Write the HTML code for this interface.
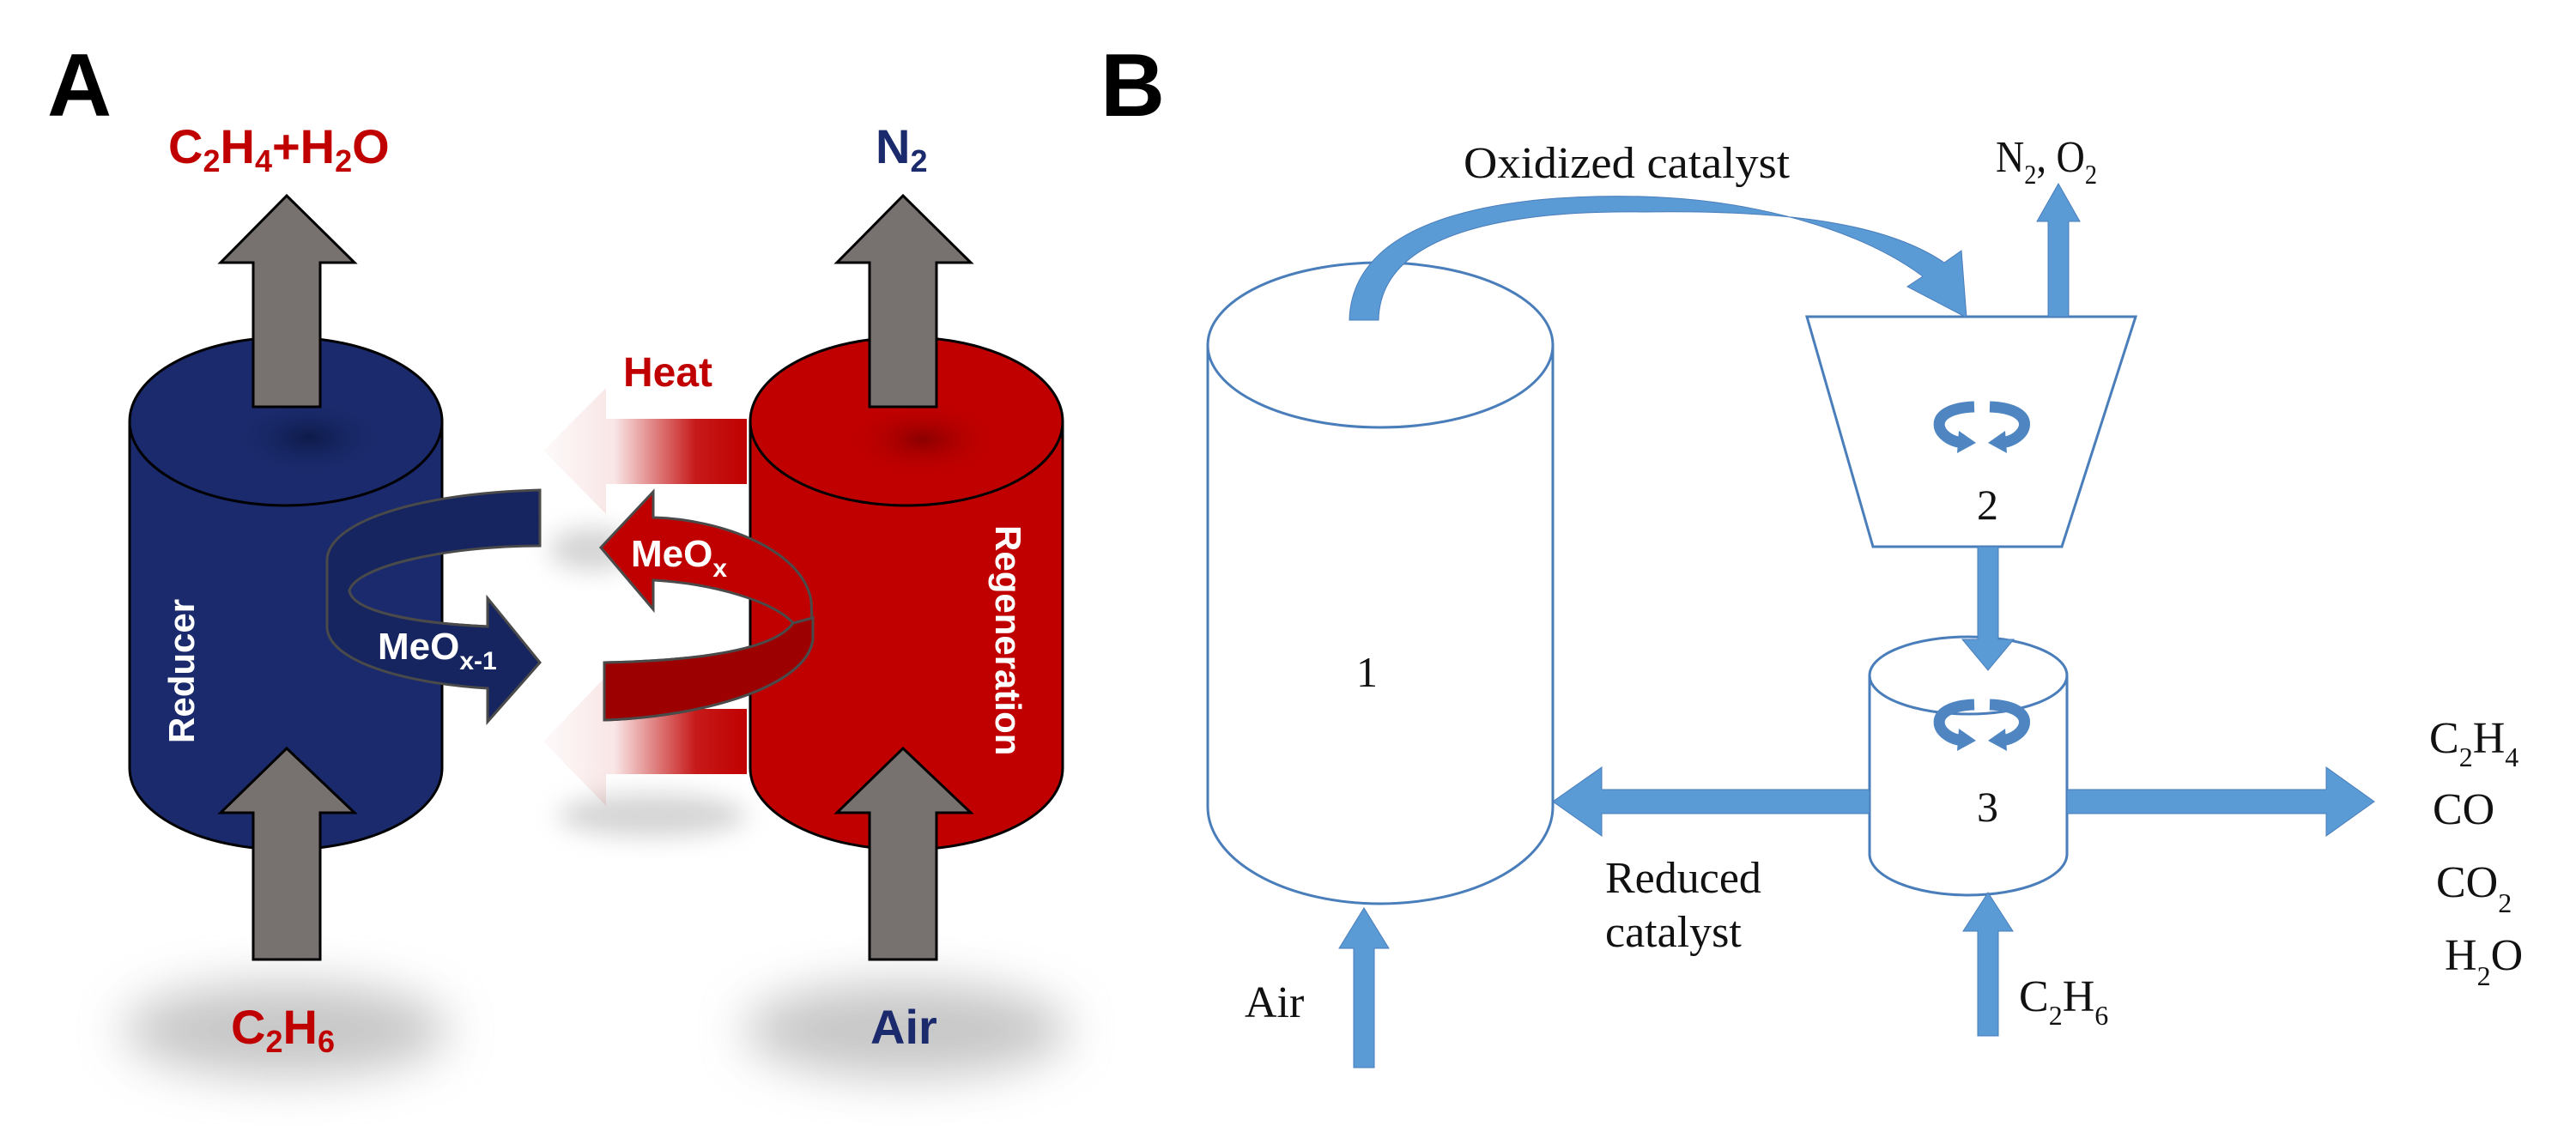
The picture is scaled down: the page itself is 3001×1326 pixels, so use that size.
<!DOCTYPE html>
<html><head><meta charset="utf-8"><style>
html,body{margin:0;padding:0;background:#fff}
svg{display:block}
.sa{font-family:"Liberation Sans",sans-serif;font-weight:bold}
.sr{font-family:"Liberation Serif",serif;fill:#111}
</style></head><body>
<svg width="3001" height="1326" viewBox="0 0 3001 1326" xmlns="http://www.w3.org/2000/svg">
<defs>
<filter id="blur" x="-50%" y="-50%" width="200%" height="200%"><feGaussianBlur stdDeviation="28"/></filter>
<filter id="blur2" x="-50%" y="-50%" width="200%" height="200%"><feGaussianBlur stdDeviation="14"/></filter>
<linearGradient id="heat" x1="633" y1="0" x2="870" y2="0" gradientUnits="userSpaceOnUse">
<stop offset="0" stop-color="#c00000" stop-opacity="0.02"/><stop offset="0.35" stop-color="#c00000" stop-opacity="0.1"/><stop offset="0.75" stop-color="#c00000" stop-opacity="0.9"/><stop offset="1" stop-color="#c00000"/></linearGradient>
<radialGradient id="bspot" cx="0.5" cy="0.5" r="0.5"><stop offset="0" stop-color="#0d1a48"/><stop offset="1" stop-color="#1a2a6c" stop-opacity="0"/></radialGradient>
<radialGradient id="rspot" cx="0.5" cy="0.5" r="0.5"><stop offset="0" stop-color="#8a0000"/><stop offset="1" stop-color="#c00000" stop-opacity="0"/></radialGradient>
</defs>

<text x="55" y="135" class="sa" font-size="104" fill="#000">A</text>
<text x="1282" y="135" class="sa" font-size="104" fill="#000">B</text>

<ellipse cx="333" cy="1200" rx="190" ry="55" fill="#999" opacity="0.55" filter="url(#blur)"/>
<ellipse cx="1056" cy="1200" rx="190" ry="55" fill="#999" opacity="0.55" filter="url(#blur)"/>
<ellipse cx="760" cy="950" rx="110" ry="25" fill="#aaa" opacity="0.5" filter="url(#blur2)"/>
<ellipse cx="690" cy="640" rx="50" ry="25" fill="#aaa" opacity="0.5" filter="url(#blur2)"/>

<path d="M870,488 L706,488 L706,452 L633,525 L706,599 L706,564 L870,564 Z" fill="url(#heat)"/>
<path d="M870,826 L706,826 L706,788 L633,864 L706,939 L706,902 L870,902 Z" fill="url(#heat)"/>
<text x="726" y="450" class="sa" font-size="48" fill="#c00000">Heat</text>

<path d="M151,491 L151,895 A182,95 0 0 0 515,895 L515,491 Z" fill="#1a2a6c" stroke="#000" stroke-width="3"/>
<ellipse cx="333" cy="491" rx="182" ry="98" fill="#1a2a6c" stroke="#000" stroke-width="3"/>
<ellipse cx="360" cy="510" rx="90" ry="45" fill="url(#bspot)"/>
<path d="M874,491 L874,895 A182,95 0 0 0 1238,895 L1238,491 Z" fill="#c00000" stroke="#000" stroke-width="3"/>
<ellipse cx="1056" cy="491" rx="182" ry="98" fill="#c00000" stroke="#000" stroke-width="3"/>
<ellipse cx="1075" cy="512" rx="90" ry="45" fill="url(#rspot)"/>

<path d="M295,474 L295,306 L257,306 L334,228 L413,306 L373,306 L373,474 Z" fill="#777170" stroke="#000" stroke-width="3"/>
<path d="M1013,474 L1013,306 L975,306 L1052,228 L1131,306 L1091,306 L1091,474 Z" fill="#777170" stroke="#000" stroke-width="3"/>
<path d="M295,1118 L295,947 L257,947 L334,872 L413,947 L373,947 L373,1118 Z" fill="#777170" stroke="#000" stroke-width="3"/>
<path d="M1013,1118 L1013,947 L975,947 L1052,872 L1131,947 L1091,947 L1091,1118 Z" fill="#777170" stroke="#000" stroke-width="3"/>

<path d="M629,571 L629,636 C520,636 415,660 407,688 C410,712 480,726 568,730 L568,697 L629,772 L568,841 L568,802 C470,796 381,770 381,730 L381,653 C381,610 480,575 629,571 Z" fill="#16255f" stroke="#4a4a4a" stroke-width="3"/>
<path d="M407,688 C410,712 480,726 568,730" fill="none" stroke="#4a4a4a" stroke-width="3"/>
<path d="M700,638 L761,573 L761,603 C840,605 935,640 945,700 L947,745 C940,800 820,835 704,839 L704,772 C800,770 900,760 924,726 C900,700 830,680 761,676 L761,710 Z" fill="#c00000" stroke="#4a4a4a" stroke-width="3"/>
<path d="M704,772 C800,770 900,760 924,726 L947,720 L947,745 C940,800 820,835 704,839 Z" fill="#9c0000" stroke="#4a4a4a" stroke-width="3"/>

<text x="440" y="768" class="sa" font-size="44" fill="#fff">MeO<tspan font-size="30" dy="12">x-1</tspan></text>
<text x="735" y="660" class="sa" font-size="44" fill="#fff">MeO<tspan font-size="30" dy="12">x</tspan></text>

<text class="sa" font-size="42" fill="#fff" transform="translate(226,866) rotate(-90)">Reducer</text>
<text class="sa" font-size="42" fill="#fff" transform="translate(1160,612) rotate(90)">Regeneration</text>

<text x="196" y="190" class="sa" font-size="56" fill="#c00000">C<tspan font-size="36" dy="10">2</tspan><tspan dy="-10">H</tspan><tspan font-size="36" dy="10">4</tspan><tspan dy="-10">+H</tspan><tspan font-size="36" dy="10">2</tspan><tspan dy="-10">O</tspan></text>
<text x="1020" y="190" class="sa" font-size="56" fill="#1a2a6c">N<tspan font-size="36" dy="10">2</tspan></text>
<text x="269" y="1216" class="sa" font-size="56" fill="#c00000">C<tspan font-size="36" dy="10">2</tspan><tspan dy="-10">H</tspan><tspan font-size="36" dy="10">6</tspan></text>
<text x="1014" y="1216" class="sa" font-size="56" fill="#1a2a6c">Air</text>

<!-- Panel B -->
<g stroke="#4a7ebb" stroke-width="3" fill="#fff">
<path d="M1407,402 L1407,940 A201,113 0 0 0 1809,940 L1809,402"/>
<ellipse cx="1608" cy="402" rx="201" ry="96"/>
<path d="M2105,369 L2488,369 L2402,637 L2182,637 Z"/>
<path d="M2178,787 L2178,995 A115,48 0 0 0 2408,995 L2408,787"/>
<ellipse cx="2293" cy="787" rx="115" ry="45"/>
</g>
<g fill="#5b9bd5" stroke="#4a7ebb" stroke-width="1">
<path d="M1572,373 C1575,250 1760,225 1914,229 C2050,233 2170,270 2240,322 L2222,334 L2291,370 L2285,292 L2265,306 C2190,255 2060,245 1914,247 C1760,245 1608,270 1606,373 Z"/>
<path d="M2386,369 L2386,258 L2373,258 L2398,214 L2423,258 L2410,258 L2410,369 Z"/>
<path d="M2304,637 L2304,745 L2286,745 L2316,781 L2346,745 L2328,745 L2328,637 Z"/>
<path d="M2178,920 L1866,920 L1866,894 L1809,934 L1866,974 L1866,948 L2178,948 Z"/>
<path d="M2408,920 L2710,920 L2710,894 L2766,934 L2710,974 L2710,948 L2408,948 Z"/>
<path d="M1577,1244 L1577,1105 L1560,1105 L1589,1058 L1618,1105 L1601,1105 L1601,1244 Z"/>
<path d="M2304,1207 L2304,1085 L2287,1085 L2316,1040 L2345,1085 L2328,1085 L2328,1207 Z"/>
</g>
<g fill="none" stroke="#4f86c2" stroke-width="13">
<path d="M2300,474 C2240,476 2255,514 2288,516"/>
<path d="M2318,474 C2378,476 2362,514 2330,516"/>
<path d="M2300,821 C2240,823 2255,861 2288,863"/>
<path d="M2318,821 C2378,823 2362,861 2330,863"/>
</g>
<g fill="#4f86c2">
<path d="M2282,502 L2302,516 L2280,528 Z"/><path d="M2336,502 L2316,516 L2338,528 Z"/>
<path d="M2282,849 L2302,863 L2280,875 Z"/><path d="M2336,849 L2316,863 L2338,875 Z"/>
</g>

<g class="sr" font-size="52">
<text x="1705" y="207" textLength="380" lengthAdjust="spacingAndGlyphs">Oxidized catalyst</text>
<text x="1580" y="800" font-size="50">1</text>
<text x="2303" y="605" font-size="50">2</text>
<text x="2303" y="957" font-size="50">3</text>
<text x="2325" y="200" textLength="118" lengthAdjust="spacingAndGlyphs">N<tspan font-size="32" dy="14">2</tspan><tspan dy="-14">, O</tspan><tspan font-size="32" dy="14">2</tspan></text>
<text x="1870" y="1040">Reduced</text>
<text x="1870" y="1103">catalyst</text>
<text x="1450" y="1185">Air</text>
<text x="2352" y="1178">C<tspan font-size="32" dy="16">2</tspan><tspan dy="-16">H</tspan><tspan font-size="32" dy="16">6</tspan></text>
<text x="2830" y="877">C<tspan font-size="32" dy="16">2</tspan><tspan dy="-16">H</tspan><tspan font-size="32" dy="16">4</tspan></text>
<text x="2834" y="960">CO</text>
<text x="2838" y="1045">CO<tspan font-size="32" dy="18">2</tspan></text>
<text x="2848" y="1130">H<tspan font-size="32" dy="18">2</tspan><tspan dy="-18">O</tspan></text>
</g>
</svg>
</body></html>
